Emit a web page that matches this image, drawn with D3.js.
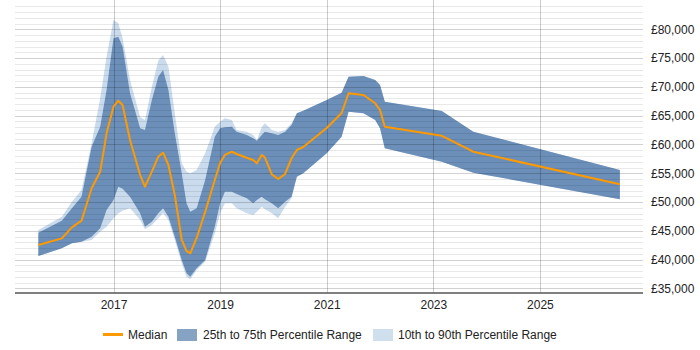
<!DOCTYPE html>
<html>
<head>
<meta charset="utf-8">
<script src="https://cdn.jsdelivr.net/npm/d3@7"></script>
<style>
  html, body { margin: 0; padding: 0; background: #fff; }
  svg { display: block; font-family: "Liberation Sans", Arial, sans-serif; }
</style>
</head>
<body>
<svg id="chart" width="700" height="350"></svg>
<script>
// ---- Data (decimal years) ----
const dates = [2015.59, 2016.03, 2016.22, 2016.40, 2016.59, 2016.75, 2016.87, 2017.00, 2017.09, 2017.17,
  2017.31, 2017.50, 2017.59, 2017.72, 2017.84, 2017.93, 2018.03, 2018.15, 2018.28, 2018.37,
  2018.44, 2018.56, 2018.72, 2018.90, 2019.00, 2019.09, 2019.22, 2019.31, 2019.50, 2019.62,
  2019.69, 2019.78, 2019.84, 2019.97, 2020.09, 2020.22, 2020.34, 2020.44, 2020.56, 2021.00,
  2021.28, 2021.41, 2021.69, 2021.91, 2022.00, 2022.09, 2023.16, 2023.75, 2026.50];
const p90 = [45150, 47460, 50070, 52100, 60200, 68020, 75240, 81610, 81040, 78500,
  71200, 64720, 64250, 70040, 74600, 75540, 73510, 65410, 56730, 55280,
  55000, 55570, 58470, 63090, 63960, 64550, 64250, 62520, 62220, 61650,
  60780, 62980, 63670, 62520, 62220, 62520, 63670, 65410, 65870, 67720,
  68990, 71770, 71890, 71200, 70330, 67430, 65810, 62220, 55570];
const p75 = [44690, 46770, 48920, 50940, 59620, 63090, 69460, 78430, 78710, 77000,
  68890, 62810, 62520, 67720, 71770, 72930, 69460, 61940, 55000, 49790,
  48330, 48920, 53840, 61350, 62810, 62980, 63090, 62220, 61650, 61070,
  60660, 61650, 62220, 61940, 61650, 62220, 63380, 65410, 65870, 67720,
  68990, 71770, 71890, 71200, 70330, 67430, 65810, 62220, 55570];
const median = [42550, 43700, 45620, 46770, 52400, 55280, 61940, 66560, 67600, 66850,
  60780, 54700, 52670, 55280, 57880, 58570, 56440, 51230, 43420, 41510,
  41110, 43770, 48280, 53840, 56790, 58180, 58750, 58350, 57690, 57310,
  56730, 58180, 57780, 54800, 54000, 54880, 57610, 59040, 59560, 62860,
  65470, 68890, 68590, 67150, 65990, 63090, 61500, 58750, 53100];
const p25 = [40640, 41980, 42850, 43120, 44000, 45450, 48630, 50360, 52670, 52300,
  50940, 48060, 45730, 46600, 48060, 48920, 47460, 43990, 39950, 37640,
  37050, 38510, 39950, 45730, 49790, 51800, 51800, 51400, 50660, 49790,
  50360, 50940, 50490, 49790, 48920, 50070, 50940, 54410, 55000, 58470,
  61350, 65700, 65410, 64250, 62810, 59340, 57010, 55100, 50490];
const p10 = [40640, 41980, 42850, 43120, 43420, 44860, 45730, 47190, 48050, 48500,
  48920, 46890, 45280, 46020, 47190, 48060, 46890, 43420, 39370, 37050,
  36600, 38210, 39650, 44580, 48060, 49790, 49790, 48920, 48060, 47760,
  48330, 49210, 48750, 48060, 47190, 49210, 50660, 54410, 55000, 58470,
  61350, 65700, 65410, 64250, 62810, 59340, 57010, 55100, 50490];

const yearTicks = [2017, 2019, 2021, 2023, 2025];
const yMajorTicks = [35000, 40000, 45000, 50000, 55000, 60000, 65000, 70000, 75000, 80000];
const legendLabels = ["Median", "25th to 75th Percentile Range", "10th to 90th Percentile Range"];

// ---- Layout ----
const plotLeft = 15, plotRight = 643, plotTop = 6.26, plotBottom = 292.5;
const x = d3.scaleLinear().domain([2015.152, 2026.934]).range([plotLeft, plotRight]);
const y = d3.scaleLinear().domain([34300, 84000]).range([plotBottom, plotTop]);

const svg = d3.select("#chart");
const rows = dates.map((d, i) => ({ d, p10: p10[i], p25: p25[i], m: median[i], p75: p75[i], p90: p90[i] }));

// bands
const outer = d3.area().x(r => x(r.d)).y0(r => y(r.p10)).y1(r => y(r.p90));
const inner = d3.area().x(r => x(r.d)).y0(r => y(r.p25)).y1(r => y(r.p75));
svg.append("path").datum(rows).attr("d", outer).attr("fill", "#c9dbed");
svg.append("path").datum(rows).attr("d", inner).attr("fill", "#6b8fb9");

// gridlines (drawn over bands, translucent)
const minor = d3.range(35000, 84001, 1000).filter(v => v % 5000 !== 0);
svg.append("g").selectAll("line").data(minor).join("line")
  .attr("x1", plotLeft).attr("x2", plotRight)
  .attr("y1", v => Math.round(y(v)) + 0.5).attr("y2", v => Math.round(y(v)) + 0.5)
  .attr("stroke", "rgba(0,0,0,0.085)").attr("stroke-width", 1);
svg.append("g").selectAll("line").data(yMajorTicks).join("line")
  .attr("x1", plotLeft).attr("x2", plotRight)
  .attr("y1", v => Math.round(y(v)) + 0.5).attr("y2", v => Math.round(y(v)) + 0.5)
  .attr("stroke", "rgba(0,0,0,0.18)").attr("stroke-width", 1);
svg.append("g").selectAll("line").data(yearTicks).join("line")
  .attr("x1", v => Math.round(x(v)) + 0.5).attr("x2", v => Math.round(x(v)) + 0.5)
  .attr("y1", 0).attr("y2", plotBottom)
  .attr("stroke", "rgba(0,0,0,0.2)").attr("stroke-width", 1);

// median
const line = d3.line().x(r => x(r.d)).y(r => y(r.m));
svg.append("path").datum(rows).attr("d", line)
  .attr("fill", "none").attr("stroke", "#ff9900").attr("stroke-width", 2)
  .attr("stroke-linejoin", "round");

// x axis
const xAxis = d3.axisBottom(x).tickValues(yearTicks).tickFormat(d3.format("d")).tickSize(0).tickPadding(8);
const gx = svg.append("g").attr("transform", `translate(0,${plotBottom})`).call(xAxis);
gx.select(".domain").attr("stroke", "#000").attr("d", `M${plotLeft},0.5H${plotRight}`);
gx.selectAll("text").attr("font-size", 12).attr("fill", "#222")
  .attr("font-family", "Liberation Sans, Arial, sans-serif");

// y axis (right labels)
const yAxis = d3.axisRight(y).tickValues(yMajorTicks)
  .tickFormat(v => "£" + d3.format(",")(v)).tickSize(0).tickPadding(8);
const gy = svg.append("g").attr("transform", `translate(${plotRight},0)`).call(yAxis);
gy.select(".domain").remove();
gy.selectAll("text").attr("font-size", 12).attr("fill", "#222")
  .attr("font-family", "Liberation Sans, Arial, sans-serif");

// legend
const lg = svg.append("g").attr("font-size", 12).attr("fill", "#222");
lg.append("line").attr("x1", 103).attr("x2", 123).attr("y1", 334.5).attr("y2", 334.5)
  .attr("stroke", "#ff9900").attr("stroke-width", 3);
lg.append("text").attr("x", 128).attr("y", 338.5).text(legendLabels[0]);
lg.append("rect").attr("x", 177).attr("y", 329).attr("width", 20).attr("height", 12).attr("fill", "#87a3c3");
lg.append("text").attr("x", 203).attr("y", 338.5).text(legendLabels[1]);
lg.append("rect").attr("x", 373).attr("y", 329).attr("width", 20).attr("height", 12).attr("fill", "#cfdfee");
lg.append("text").attr("x", 398).attr("y", 338.5).text(legendLabels[2]);
</script>
</body>
</html>
